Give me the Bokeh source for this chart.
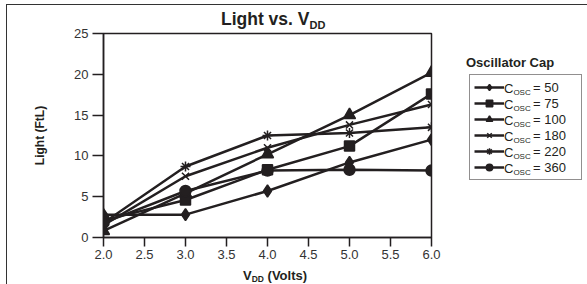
from bokeh.plotting import figure
from bokeh.models import (Range1d, FixedTicker, NumeralTickFormatter, Legend, LegendItem, Div)
from bokeh.embed import file_html
from bokeh.resources import INLINE

vdd = [2.0, 3.0, 4.0, 5.0, 6.0]
c50 = [2.8, 2.8, 5.7, 9.2, 12.0]
c75 = [2.1, 4.6, 8.3, 11.2, 17.6]
c100 = [0.8, 5.4, 10.2, 15.0, 20.2]
c180 = [1.5, 7.5, 11.0, 13.8, 16.3]
c220 = [1.8, 8.7, 12.5, 12.8, 13.5]
c360 = [1.8, 5.7, 8.2, 8.3, 8.2]
cap_values = ["50", "75", "100", "180", "220", "360"]
x_ticks = [2.0, 2.5, 3.0, 3.5, 4.0, 4.5, 5.0, 5.5, 6.0]
y_ticks = [0, 5, 10, 15, 20, 25]

W, H = 587, 284
FL, FR, FT, FB = 103, 431, 33, 237

FONT = "Liberation Sans"
INK = "#231f20"

p = figure(frame_width=FR - FL, frame_height=FB - FT, output_backend="svg",
           toolbar_location=None,
           x_range=Range1d(2.0, 6.0), y_range=Range1d(0, 25),
           min_border_left=FL, min_border_right=W - FR,
           min_border_top=FT, min_border_bottom=H - FB)
p.title = None
p.grid.visible = False
p.outline_line_color = INK
p.outline_line_width = 1.5

for ax in (p.xaxis[0], p.yaxis[0]):
    ax.axis_line_color = INK
    ax.axis_line_width = 1.5
    ax.major_tick_line_color = INK
    ax.major_tick_line_width = 1.5
    ax.minor_tick_line_color = None
    ax.major_tick_in = 0
    ax.major_label_text_font = FONT
    ax.major_label_text_font_size = "13px"
    ax.major_label_text_color = "#333333"

p.xaxis.ticker = FixedTicker(ticks=x_ticks)
p.xaxis.formatter = NumeralTickFormatter(format="0.0")
p.xaxis.major_tick_out = 9
p.xaxis.major_label_standoff = 3
p.yaxis.ticker = FixedTicker(ticks=y_ticks)
p.yaxis.major_tick_out = 11
p.yaxis.major_label_standoff = 4
p.yaxis.axis_label = "Light (FtL)"
p.yaxis.axis_label_text_font = FONT
p.yaxis.axis_label_text_font_size = "12px"
p.yaxis.axis_label_text_font_style = "bold"
p.yaxis.axis_label_text_color = INK
p.yaxis.axis_label_standoff = 24

series = [c50, c75, c100, c180, c220, c360]
markers = ["diamond", "square", "triangle", "x", "asterisk", "circle"]
sizes = [12, 10, 12, 10, 10, 11]
items = []
for vals, mk, sz, cap in zip(series, markers, sizes, cap_values):
    r1 = p.line(vdd, vals, line_color=INK, line_width=2.5)
    r2 = p.scatter(vdd, vals, marker=mk, size=sz, fill_color=INK, line_color=INK,
                   line_width=1.5)
    items.append(LegendItem(label="= " + cap, renderers=[r1, r2]))

LEG_X, LEG_TOP = 469, 76
PAD, ROWH = 4, 16
leg_h = 2 * PAD + ROWH * len(items)
legend = Legend(items=items, location=(LEG_X - FR, (FB - LEG_TOP) - leg_h),
                glyph_width=30, glyph_height=ROWH, label_height=ROWH, label_width=44,
                spacing=0, padding=PAD, margin=0, label_standoff=29,
                label_text_font=FONT, label_text_font_size="13px",
                label_text_color=INK, border_line_color=INK,
                border_line_width=1.5, background_fill_alpha=1.0)
p.add_layout(legend, "right")

# ---- free texts as absolutely positioned HTML elements ----
def box(html, left, baseline, size, bold=False):
    st = {"position": "absolute", "left": f"{left}px",
          "top": f"{baseline - 0.846 * size:.1f}px",
          "font-family": FONT, "font-size": f"{size}px", "line-height": "1",
          "font-weight": "bold" if bold else "normal", "color": INK,
          "white-space": "nowrap", "margin": "0", "padding": "0"}
    return Div(text=html, styles=st)

def sub(t, size, drop):
    return f'<span style="font-size:{size}px;vertical-align:-{drop}px">{t}</span>'

els = []
els.append(box("Light vs. V" + sub("DD", 11, 4), 221, 26, 17.5, True))
els.append(box("V" + sub("DD", 8.5, 2) + " (Volts)", 243, 279.5, 13, True))
els.append(box("Oscillator Cap", 466, 66.5, 13, True))
for i, cap in enumerate(cap_values):
    base = LEG_TOP + PAD + ROWH * i + ROWH / 2 + 4.5
    els.append(box("C" + sub("OSC", 8, 2), 504, base, 13))
# outer frame of the figure panel
els.append(Div(text="", styles={"position": "absolute", "left": "6px", "top": "4px",
                                "width": "590px", "height": "290px",
                                "border-left": "1.5px solid #333",
                                "border-top": "1.5px solid #333",
                                "pointer-events": "none"}))
p.elements = els

open("out.html", "w").write(file_html(p, INLINE))
